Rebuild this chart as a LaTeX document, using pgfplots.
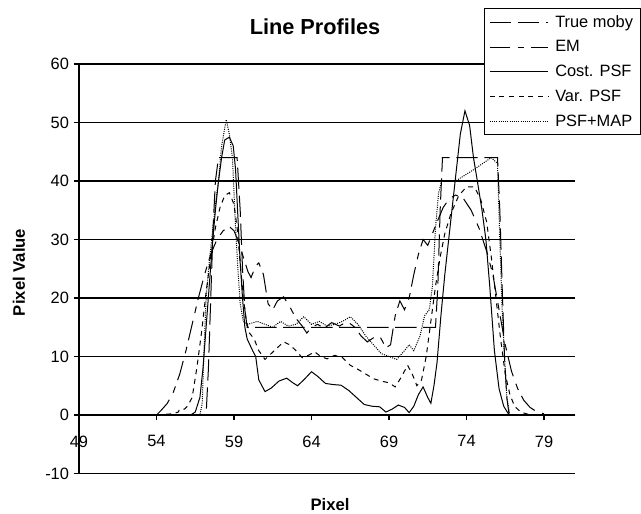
\documentclass[border=0pt]{standalone}
\usepackage{pgfplots}
\pgfplotsset{compat=1.18}
\usepackage{fontspec}
\setmainfont{Liberation Sans}
\begin{document}
\begin{tikzpicture}[x=1pt,y=1pt]
\useasboundingbox (0,0) rectangle (480.75,384.75);
\begin{axis}[
  at={(59.25pt,29.625pt)}, anchor=south west,
  scale only axis, width=372pt, height=307.125pt,
  xmin=49, xmax=81, ymin=-10, ymax=60,
  axis x line=middle, axis y line*=left,
  axis line style={-, line width=0.9pt, black},
  xtick={49,54,...,79}, ytick={-10,0,...,60},
  hide obscured x ticks=false, hide obscured y ticks=false,
  tick align=outside, major tick length=4pt,
  tick style={black, line width=0.9pt},
  ymajorgrids, grid style={black, line width=0.9pt},
  /pgf/number format/assume math mode=true,
  ticklabel style={font=\fontsize{12.3}{14}\selectfont},
  xticklabel style={yshift=-8pt},
  legend style={at={(0.8165,1.1368)}, anchor=north west, draw=black, line width=0.9pt,
    fill=white, font=\fontsize{12.3}{14}\selectfont, row sep=4.5pt,
    inner ysep=3pt, inner xsep=3.5pt,
    /tikz/every odd column/.append style={column sep=3pt}},
  legend cell align=left,
  legend image code/.code={\draw[#1, line width=0.75pt] (0pt,0pt) -- (43.75pt,0pt);},
  every axis plot/.append style={line width=0.75pt, black},
]
% True moby
\addplot[dash pattern=on 16pt off 5pt] coordinates {
(54,0) (57.2,0) (57.35,8) (57.5,20) (57.65,32) (57.8,40) (58.0,44) (59.2,44) (59.4,35) (59.55,25) (59.7,18) (59.85,15) (72.0,15) (72.15,22) (72.3,35) (72.45,44) (76.0,44) (76.15,35) (76.3,22) (76.45,10) (76.6,3) (76.75,0) (79,0)
};
\addlegendentry{True moby}
% EM
\addplot[dash pattern=on 15pt off 6pt on 5pt off 5pt] coordinates {
(54,0) (54.3,0.8) (54.7,2) (55.1,4) (55.5,7) (55.9,11) (56.3,15.5) (56.7,20) (57.1,24) (57.5,27.5) (57.9,30) (58.3,31.5) (58.7,32.2) (59.0,31.5) (59.3,29.5) (59.6,27) (59.9,24.5) (60.1,23.5) (60.4,25.5) (60.6,26) (60.9,24) (61.2,19) (61.5,18) (61.8,19.5) (62.2,20.2) (62.6,18.5) (63.0,16.5) (63.4,15.2) (63.7,14) (64.0,15) (64.4,15.5) (64.8,14.8) (65.3,15.8) (65.8,15.2) (66.3,16) (66.8,15) (67.2,13.5) (67.6,12.5) (68.0,13.2) (68.4,13.5) (68.8,11.5) (69.1,12) (69.4,17) (69.7,19.5) (70.0,18) (70.3,20) (70.6,24) (70.9,27.5) (71.2,30) (71.5,29) (71.8,31) (72.1,33) (72.5,35.5) (72.9,37) (73.3,37.6) (73.8,37) (74.3,35) (74.8,32) (75.3,28) (75.7,24) (76.1,18) (76.5,12) (76.9,7.5) (77.3,4.5) (77.7,2.5) (78.1,1.3) (78.5,0.6) (79,0.2)
};
\addlegendentry{EM}
% Cost. PSF
\addplot[solid] coordinates {
(54,0) (56.2,0) (56.5,0.5) (56.8,3) (57.0,8) (57.2,15) (57.4,22) (57.6,29) (57.8,35) (58.0,40) (58.2,44) (58.4,47) (58.7,47.5) (58.95,46) (59.1,42) (59.25,34) (59.4,26) (59.55,20) (59.7,15) (59.85,13) (60.2,11) (60.4,10) (60.6,6) (61.0,4) (61.4,4.6) (61.9,5.8) (62.4,6.3) (62.8,5.5) (63.1,5) (63.5,6) (64.0,7.4) (64.4,6.6) (64.9,5.4) (65.4,5.2) (65.9,5.1) (66.4,4.2) (66.9,3) (67.4,1.8) (67.9,1.5) (68.4,1.4) (68.8,0.5) (69.2,1) (69.6,1.7) (70.0,1.3) (70.3,0.4) (70.6,1.5) (70.9,3.5) (71.2,4.8) (71.5,3) (71.7,2) (71.9,5) (72.1,9) (72.35,17) (72.6,24) (72.85,30) (73.1,36) (73.35,42) (73.6,48) (73.9,52) (74.2,49.5) (74.45,44) (74.7,40) (75.0,35) (75.25,30) (75.5,22) (75.8,11) (76.1,4.5) (76.4,1.5) (76.75,0) (79,0)
};
\addlegendentry{Cost. PSF}
% Var. PSF
\addplot[dash pattern=on 3.75pt off 3.5pt] coordinates {
(54,0) (55.0,0.2) (55.4,0.5) (55.5,1) (55.8,1) (56.0,1.5) (56.3,3) (56.6,8) (56.9,14) (57.2,21) (57.5,27) (57.8,32) (58.1,35.5) (58.4,37.5) (58.7,38) (59.0,36) (59.2,32) (59.4,26) (59.6,20) (59.8,16) (60.0,14) (60.3,13) (60.6,11) (61.0,9.5) (61.4,10.5) (61.8,11.5) (62.2,12.5) (62.6,12) (63.0,11) (63.4,9.8) (63.8,10.2) (64.2,10.8) (64.6,10) (65.0,9.6) (65.5,10.2) (66.0,9.8) (66.5,8.5) (67.0,7.8) (67.5,7) (68.0,6.2) (68.5,5.8) (69.0,5.5) (69.4,4.8) (69.8,6.5) (70.2,8.5) (70.5,7) (70.8,5) (71.1,6) (71.4,10) (71.7,16) (72.0,22) (72.3,27) (72.6,31) (73.0,34.5) (73.5,37.5) (74.0,39) (74.5,39) (74.9,37) (75.3,33) (75.6,27) (75.9,20) (76.2,13) (76.5,7) (76.8,3.5) (77.1,1.5) (77.5,0.5) (78,0.1) (79,0)
};
\addlegendentry{Var. PSF}
% PSF+MAP
\addplot[dash pattern=on 0.75pt off 0.9pt] coordinates {
(54,0) (56.8,0) (56.95,2) (57.05,10) (57.2,20) (57.4,26) (57.6,31) (57.8,36) (58.0,40) (58.2,46) (58.4,49) (58.5,50.5) (58.7,48) (58.9,44) (59.0,38) (59.1,32) (59.25,25) (59.4,19) (59.6,16) (59.9,15.5) (60.5,16) (61.0,15.5) (61.5,15) (62.0,16) (62.5,15.2) (63.0,15.5) (63.5,16.8) (64.0,15.5) (64.5,16) (65.0,15.2) (65.5,15.5) (66.0,16) (66.5,16.8) (67.0,15.5) (67.5,13.5) (68.0,12) (68.5,10.5) (69.0,10) (69.5,9.5) (70.0,11) (70.3,12) (70.6,11) (71.0,13.5) (71.3,17) (71.6,18) (71.8,22) (72.0,32) (72.2,38) (72.4,40) (73.3,40) (74.5,42) (75.6,44) (76.0,43) (76.15,30) (76.3,18) (76.45,10) (76.6,3) (76.8,0) (81,0)
};
\addlegendentry{PSF+MAP}
\end{axis}
\node[font=\bfseries\fontsize{16.3}{18}\selectfont] at (236.25,364.5) {Line Profiles};
\node[rotate=90, font=\bfseries\fontsize{12.5}{14}\selectfont] at (14.25,180.4) {Pixel Value};
\node[font=\bfseries\fontsize{12.5}{14}\selectfont] at (247.5,6) {Pixel};
\end{tikzpicture}
\end{document}
